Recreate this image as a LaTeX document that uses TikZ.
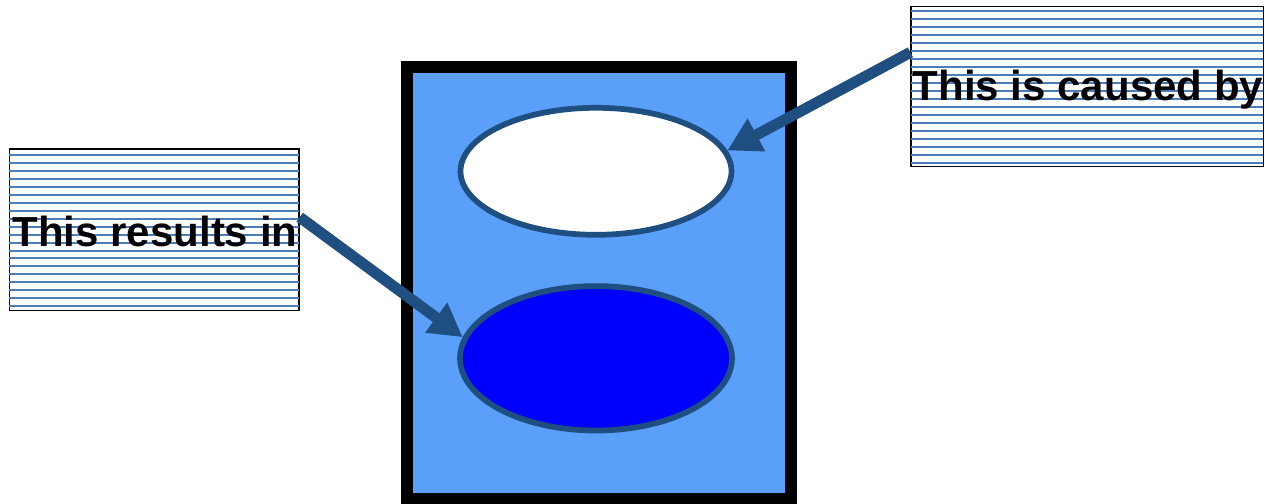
\documentclass[tikz,border=0pt]{standalone}
\usepackage{fontspec}
\setmainfont{Liberation Sans}
\usetikzlibrary{arrows.meta,shapes.geometric}
\definecolor{framefill}{RGB}{90,159,250}
\definecolor{edgeblue}{RGB}{31,78,128}
\definecolor{hatchblue}{RGB}{74,126,187}
\definecolor{deepblue}{RGB}{0,0,255}
\tikzset{
  framebox/.style={draw=black,line width=12pt,fill=framefill,rectangle,inner sep=0pt,minimum width=384pt,minimum height=431.7pt},
  oval/.style={ellipse,draw=edgeblue,line width=5.7pt,inner sep=0pt},
  textbox/.style={rectangle,draw=black,line width=1.3pt,fill=white,inner sep=0pt},
  lbl/.style={inner sep=0pt,anchor=base,font=\fontsize{42}{50}\selectfont\bfseries},
  hatch/.style={draw=hatchblue,line width=2pt},
  bigarrow/.style={draw=edgeblue,line width=11pt,-{Triangle[length=33pt,width=35pt]}}
}
\begin{document}
\begin{tikzpicture}[x=1pt,y=-1pt]
\useasboundingbox (0,0) rectangle (1265,503);
\node[framebox] (frame) at (598.7,282.85) {};
\node[oval,fill=white,minimum width=271pt,minimum height=127pt] (top) at (596,171.3) {};
\node[oval,fill=deepblue,minimum width=272pt,minimum height=144.4pt] (bot) at (596,358.3) {};
% text boxes
\node[textbox,minimum width=289.7pt,minimum height=161.7pt] (lbox) at (154.2,229.9) {};
\node[textbox,minimum width=352.3pt,minimum height=160pt] (rbox) at (1087.2,86.7) {};
\foreach \k in {0,...,19}{
  \draw[hatch] ([xshift=0.7pt,yshift={-(6.7+7.95*\k)*1pt}]lbox.north west) -- ([xshift=-0.7pt,yshift={-(6.7+7.95*\k)*1pt}]lbox.north east);
  \draw[hatch] ([xshift=0.7pt,yshift={-(5+8*\k)*1pt}]rbox.north west) -- ([xshift=-0.7pt,yshift={-(5+8*\k)*1pt}]rbox.north east);
}
\node[lbl] (ltext) at (155,246) {This results in};
\node[lbl] (rtext) at (1088,100.7) {This is caused by};
% arrows
\draw[bigarrow] (lbox.5.5) -- (bot.171);
\draw[bigarrow] (rbox.169.9) -- (top.9.8);
\end{tikzpicture}
\end{document}
